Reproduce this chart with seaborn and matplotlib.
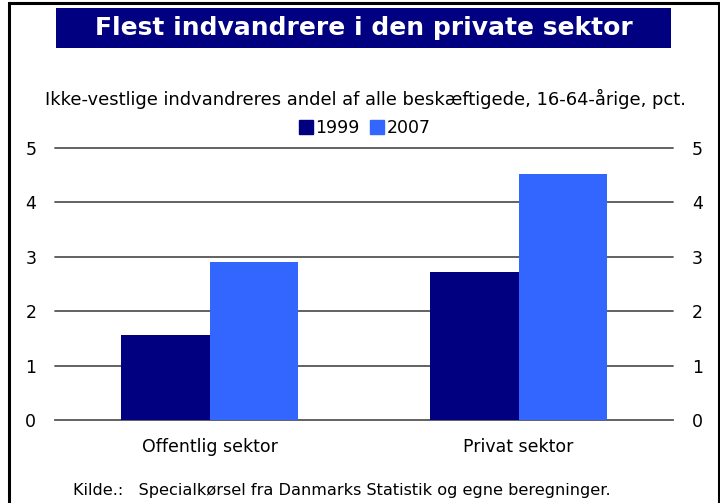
import numpy as np
import pandas as pd
import matplotlib
matplotlib.use("Agg")
import matplotlib.pyplot as plt
import seaborn as sns
from matplotlib.patches import Rectangle

# data
sectors = ["Offentlig sektor", "Privat sektor"]
years = ["1999", "2007"]
values_1999 = [1.56, 2.72]
values_2007 = [2.90, 4.52]
yticks = [0, 1, 2, 3, 4, 5]

title = "Flest indvandrere i den private sektor"
subtitle = "Ikke-vestlige indvandreres andel af alle beskæftigede, 16-64-årige, pct."
source = "Kilde.:   Specialkørsel fra Danmarks Statistik og egne beregninger."

df = pd.DataFrame({
    "sektor": sectors * 2,
    "aar": [years[0]] * 2 + [years[1]] * 2,
    "pct": values_1999 + values_2007,
})

sns.set_style("white")
plt.rcParams["font.family"] = ["DejaVu Sans"]
plt.rcParams["text.color"] = "black"
plt.rcParams["xtick.color"] = "black"
plt.rcParams["ytick.color"] = "black"

W, H = 720, 503
fig = plt.figure(figsize=(7.2, 5.03), dpi=100)
ax = fig.add_axes([55 / W, 1 - 420 / H, (673 - 55) / W, (420 - 148) / H])

palette = {"1999": "#000080", "2007": "#3366FF"}
sns.barplot(data=df, x="sektor", y="pct", hue="aar", palette=palette,
            width=0.573, saturation=1, linewidth=0, ax=ax, legend=False, zorder=3)

ax.set_xlim(-0.5, 1.5)
ax.set_ylim(0, 5)
ax.set_yticks(yticks)
ax.yaxis.grid(True, color="#555555", linewidth=1.3, zorder=0)
for gl in ax.get_ygridlines():
    gl.set_clip_on(False)
ax.set_axisbelow(True)
ax.set_xlabel("")
ax.set_ylabel("")

for s in ["top", "left", "right"]:
    ax.spines[s].set_visible(False)
ax.spines["bottom"].set_color("#666666")
ax.spines["bottom"].set_linewidth(1.3)

# category ticks between groups
ax.set_xticks([-0.5, 0.5, 1.5], minor=False)
ax.set_xticklabels(["", "", ""])
ax.set_xticks([0, 1], minor=True)
ax.set_xticklabels(sectors, minor=True, fontsize=12.5)
ax.tick_params(axis="x", which="major", length=6, width=1.2, color="#666666", direction="out")
ax.tick_params(axis="x", which="minor", length=0, pad=13)
ax.tick_params(axis="y", left=False, right=False, labelleft=True, labelright=True,
               labelsize=12.5, pad=10)

# legend above plot
handles = [Rectangle((0, 0), 1, 1, color=palette[y]) for y in years]
fig.legend(handles, years, loc="center", bbox_to_anchor=(365 / W, 1 - 128 / H),
           ncol=2, frameon=False, fontsize=12.5, handlelength=0.8, handleheight=0.8,
           handletextpad=0.15, columnspacing=0.6, borderpad=0)

# title band
fig.patches.append(Rectangle((56 / W, 1 - 48 / H), (671 - 56) / W, (48 - 8) / H,
                             transform=fig.transFigure, facecolor="#000080",
                             edgecolor="none", zorder=0))
fig.text(364 / W, 1 - 28 / H, title, color="white", fontsize=18, fontweight="bold",
         ha="center", va="center")
fig.text(365 / W, 1 - 99 / H, subtitle, fontsize=12.9, ha="center", va="center")
fig.text(73 / W, 1 - 491 / H, source, fontsize=11.6, ha="left", va="center")

# outer frame
fig.patches.append(Rectangle((8.5 / W, -0.05), (718.5 - 8.5) / W, 1.05 - 3 / H,
                             transform=fig.transFigure, facecolor="none",
                             edgecolor="black", linewidth=2.2, zorder=5))

fig.savefig("out.png", dpi=100)
